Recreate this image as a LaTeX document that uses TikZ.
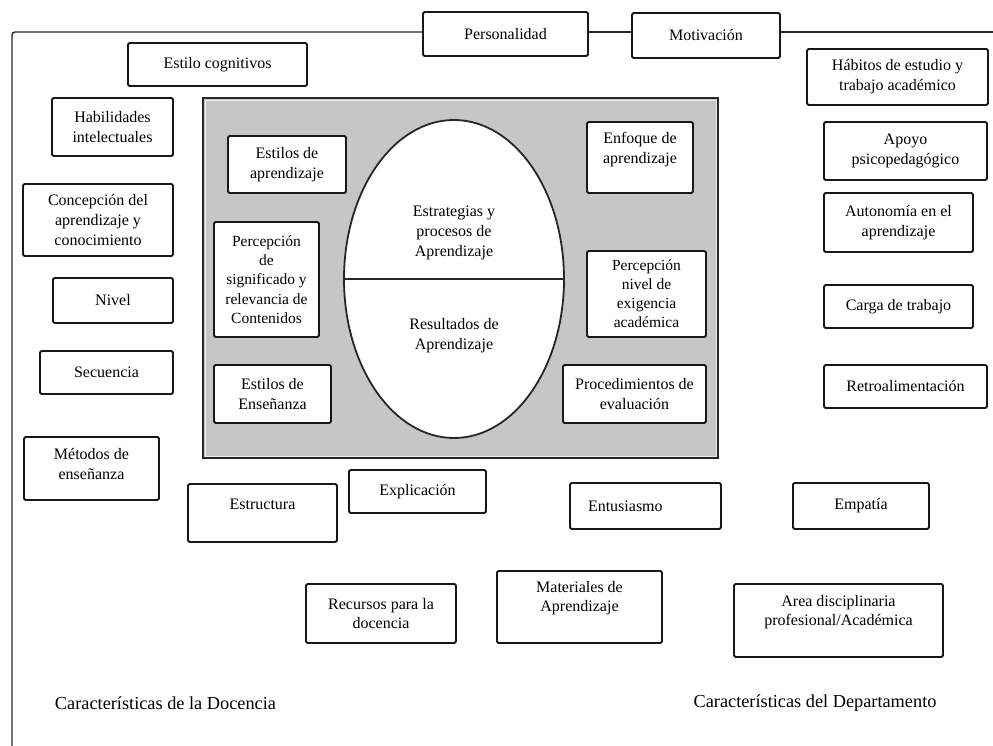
\documentclass[tikz,border=0pt]{standalone}
\usepackage{fontspec}
\setmainfont{Liberation Serif}
\usetikzlibrary{shapes.geometric}
\newcommand\fsz{\fontsize{16}{19.8}\selectfont}
\newcommand\capsz{\fontsize{18.3}{22}\selectfont}
\tikzset{
  bx/.style={draw=black!90, line width=1.8pt, rounded corners=1.5pt, fill=white,
    align=center, inner sep=2pt, font=\fsz},
  frame/.style={draw=black!85, line width=1.4pt},
  txt/.style={align=center, inner sep=0pt, font=\fsz},
  captxt/.style={inner sep=0pt, font=\capsz},
}
\begin{document}
\begin{tikzpicture}[x=1pt,y=-1pt]
\useasboundingbox (0,0) rectangle (993,746);
% gray central area
\node[draw=black!85, line width=1.8pt, fill={rgb,255:red,198;green,198;blue,198},
  minimum width=515pt, minimum height=360pt, inner sep=0pt] (core) at (460.5,278) {};
\draw[white!85!gray, line width=0.8pt] ([shift={(3pt,-3pt)}]core.north west) rectangle ([shift={(-3pt,3pt)}]core.south east);

% top frame
\coordinate (tl) at (12,32);
\coordinate (bl) at (12,746);
\coordinate (tr) at (993,32);
\node[bx, minimum width=165pt, minimum height=44pt] (pers) at (505.5,34) {Personalidad};
\node[bx, minimum width=148pt, minimum height=45pt] (mot) at (706,35.5) {Motivación};
\draw[frame, rounded corners=3pt] (pers.west |- tl) -- (tl) -- (bl);
\draw[frame] (pers.east |- tl) -- (mot.west |- tl);
\draw[frame] (mot.east |- tl) -- (tr);

% left column
\node[bx, minimum width=179pt, minimum height=43pt] (cog) at (217.5,64.5) {Estilo cognitivos};
\node[bx, minimum width=121pt, minimum height=58pt] (hab) at (112.5,127) {Habilidades\\intelectuales};
\node[bx, minimum width=150pt, minimum height=72pt] (conc) at (98,220) {Concepción del\\aprendizaje y\\conocimiento};
\node[bx, minimum width=120pt, minimum height=45pt] (niv) at (113,300.5) {Nivel};
\node[bx, minimum width=133pt, minimum height=43pt] (sec) at (106.5,372.5) {Secuencia};
\node[bx, minimum width=135pt, minimum height=63pt, text depth=9pt] (met) at (91.5,468.5) {Métodos de\\enseñanza};

% right column
\node[bx, minimum width=181pt, minimum height=56pt] (habe) at (897.5,77) {Hábitos de estudio y\\trabajo académico};
\node[bx, minimum width=163pt, minimum height=58pt] (apo) at (905.5,151) {Apoyo\\psicopedagógico};
\node[bx, minimum width=149pt, minimum height=59pt] (aut) at (898.5,222.5) {Autonomía en el\\aprendizaje};
\node[bx, minimum width=149pt, minimum height=43pt] (carga) at (898.5,306.5) {Carga de trabajo};
\node[bx, minimum width=163pt, minimum height=43pt] (retro) at (905.5,386.5) {Retroalimentación};

% inside gray area
\node[bx, minimum width=118pt, minimum height=57pt] (eap) at (287,164.5) {Estilos de\\aprendizaje};
\node[bx, minimum width=105pt, minimum height=115pt, font=\fontsize{15.5}{19.2}\selectfont] (psig) at (266.5,279.5) {Percepción\\de\\significado y\\relevancia de\\Contenidos};
\node[bx, minimum width=117pt, minimum height=58pt] (eens) at (272.5,394) {Estilos de\\Enseñanza};
\node[bx, minimum width=106pt, minimum height=71pt, text depth=19pt] (enf) at (640,157.5) {Enfoque de\\aprendizaje};
\node[bx, minimum width=119pt, minimum height=86pt, font=\fontsize{15.5}{19}\selectfont] (pniv) at (646.5,294) {Percepción\\nivel de\\exigencia\\académica};
\node[bx, minimum width=143pt, minimum height=58pt] (proc) at (634.5,394) {Procedimientos de\\evaluación};

% ellipse
\node[draw=black!85, line width=1.8pt, fill=white, ellipse, minimum width=220pt,
  minimum height=318pt, inner sep=0pt] (ell) at (454,279) {};
\draw[black!85, line width=1.4pt] (ell.west) -- (ell.east);
\node[txt] (estr) at (454,233) {Estrategias y\\procesos de\\Aprendizaje};
\node[txt] (res) at (454,336) {Resultados de\\Aprendizaje};

% bottom boxes
\node[bx, minimum width=149pt, minimum height=58pt, text depth=18pt] (estru) at (262.5,513) {Estructura};
\node[bx, minimum width=137pt, minimum height=43pt] (expl) at (417.5,491.5) {Explicación};
\node[bx, minimum height=46pt, text width=115pt, inner xsep=18pt, align=left] (ent) at (645.5,506) {Entusiasmo};
\node[bx, minimum width=136pt, minimum height=46pt] (emp) at (861,506) {Empatía};
\node[bx, minimum width=150pt, minimum height=59pt] (rec) at (381,613.5) {Recursos para la\\docencia};
\node[bx, minimum width=165pt, minimum height=72pt, text depth=21pt] (mat) at (579.5,607) {Materiales de\\Aprendizaje};
\node[bx, minimum width=209pt, minimum height=73pt, text depth=20pt] (area) at (838.5,620.5) {Area disciplinaria\\profesional/Académica};

% captions
\node[captxt] (cdoc) at (165.5,703) {Características de la Docencia};
\node[captxt] (cdep) at (815,703) {Características del Departamento};
\end{tikzpicture}
\end{document}
